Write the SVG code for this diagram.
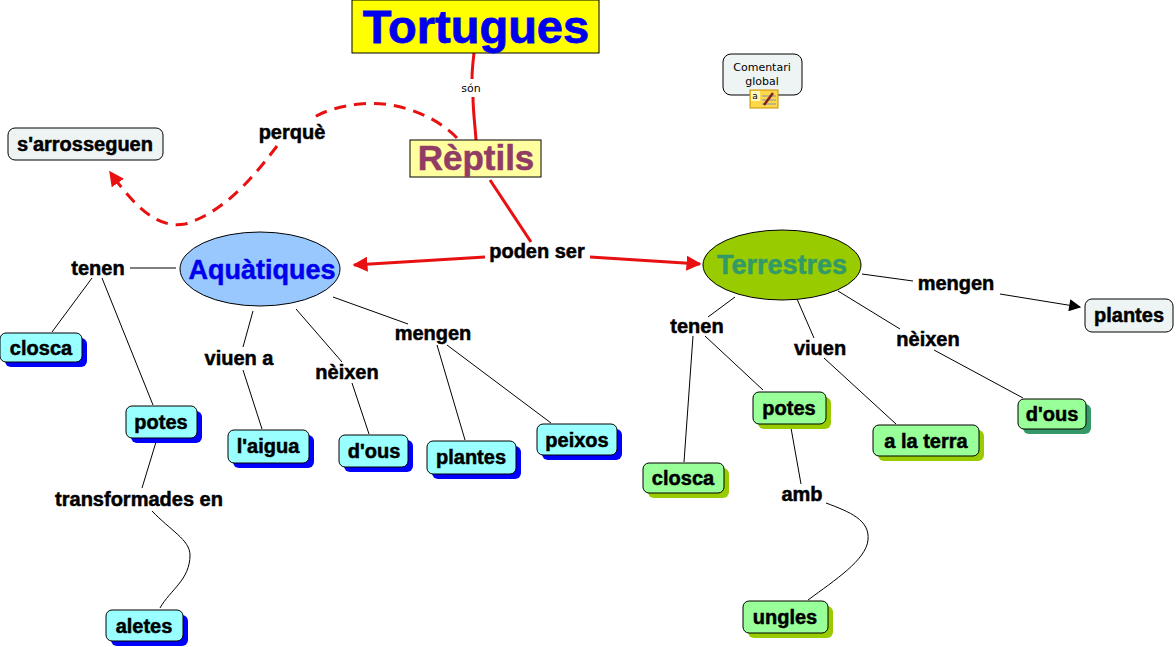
<svg xmlns="http://www.w3.org/2000/svg" width="1176" height="647" viewBox="0 0 1176 647">
<defs>
<style>
.lbl{font-family:"Liberation Sans",Arial,sans-serif;font-weight:bold;font-size:20px;fill:#000;stroke:#000;stroke-width:0.5;text-anchor:middle;dominant-baseline:central}
.box{stroke:#000;stroke-width:1}
.cy{fill:#99ffff}
.gr{fill:#99ff99}
.gy{fill:#eef4f4}
.shb{fill:#0000ff}
.shg{fill:#99cc00}
.sht{fill:#339966}
.thin{fill:none;stroke:#000;stroke-width:1}
.red{fill:none;stroke:#e81010;stroke-width:3}
.dash{fill:none;stroke:#e81010;stroke-width:3;stroke-dasharray:12 8}
</style>
<marker id="ar" viewBox="0 0 10 10" refX="9" refY="5" markerWidth="5" markerHeight="5" orient="auto" markerUnits="strokeWidth">
<path d="M0,0 L10,5 L0,10 z" fill="#e81010"/>
</marker>
<marker id="ab" viewBox="0 0 10 10" refX="9" refY="5" markerWidth="14" markerHeight="12" orient="auto" markerUnits="strokeWidth">
<path d="M0,0 L10,5 L0,10 z" fill="#000"/>
</marker>
</defs>
<rect width="1176" height="647" fill="#fff"/>

<g id="connectors">
<path class="red" d="M474,53 C473,62 472,70 472,79"/>
<path class="red" d="M473,97 C473,110 475,125 476,140"/>
<path class="red" d="M490,180 L531,242"/>
<path class="red" d="M485,257 L354,265" marker-end="url(#ar)"/>
<path class="red" d="M590,257 L700,264" marker-end="url(#ar)"/>
<path class="dash" d="M457,138 C435,115 395,100 360,104 C340,106 324,111 313,118"/>
<path class="dash" d="M277,146 C255,175 225,212 185,224 C155,230 130,200 110,172" marker-end="url(#ar)"/>
<path class="thin" d="M130,268 L176,268"/>
<path class="thin" d="M92,278 L52,332"/>
<path class="thin" d="M102,278 L153,405"/>
<path class="thin" d="M253,311 L243,347"/>
<path class="thin" d="M243,370 L262,429"/>
<path class="thin" d="M296,309 L342,362"/>
<path class="thin" d="M352,383 L369,434"/>
<path class="thin" d="M333,297 L408,324"/>
<path class="thin" d="M437,345 L465,440"/>
<path class="thin" d="M447,345 L551,423"/>
<path class="thin" d="M156,442 L142,488"/>
<path class="thin" d="M152,511 C170,530 190,540 190,555 C190,580 170,590 160,608"/>
<path class="thin" d="M735,297 L708,317"/>
<path class="thin" d="M693,336 L684,462"/>
<path class="thin" d="M705,336 L763,390"/>
<path class="thin" d="M797,299 L814,338"/>
<path class="thin" d="M824,358 L896,424"/>
<path class="thin" d="M838,291 L900,329"/>
<path class="thin" d="M934,350 L1023,398"/>
<path class="thin" d="M862,274 L913,281"/>
<path class="thin" d="M1000,294 L1080,307" marker-end="url(#ab)"/>
<path class="thin" d="M791,428 L801,484"/>
<path class="thin" d="M826,503 C850,512 870,520 868,540 C866,560 835,580 808,600"/>
</g>

<g id="n-tortugues">
<rect x="352" y="0" width="247" height="53" fill="#ffff00" class="box"/>
<text x="476" y="43" font-family="Liberation Sans,Arial,sans-serif" font-weight="bold" font-size="47" fill="#0000ee" stroke="#0000ee" stroke-width="0.8" text-anchor="middle">Tortugues</text>
</g>
<g id="n-reptils">
<rect x="410" y="140" width="131" height="37" fill="#ffffa0" class="box"/>
<text x="476" y="157" font-family="Liberation Sans,Arial,sans-serif" font-weight="bold" font-size="35" fill="#913c64" stroke="#913c64" stroke-width="0.5" text-anchor="middle" dominant-baseline="central">Rèptils</text>
</g>
<g id="n-aquatiques">
<ellipse cx="260" cy="269" rx="80" ry="37" fill="#99c8ff" class="box"/>
<text x="262" y="270" font-family="Liberation Sans,Arial,sans-serif" font-weight="bold" font-size="27" fill="#0000ee" stroke="#0000ee" stroke-width="0.5" text-anchor="middle" dominant-baseline="central">Aquàtiques</text>
</g>
<g id="n-terrestres">
<ellipse cx="782" cy="265" rx="79" ry="35" fill="#99cc00" class="box"/>
<text x="782" y="265" font-family="Liberation Sans,Arial,sans-serif" font-weight="bold" font-size="27" fill="#339966" stroke="#339966" stroke-width="0.5" text-anchor="middle" dominant-baseline="central">Terrestres</text>
</g>

<g id="n-comentari">
<rect x="723" y="54" width="79" height="41" rx="8" class="box gy"/>
<text x="762" y="67" font-family="DejaVu Sans,Verdana,sans-serif" font-size="11" fill="#000" text-anchor="middle" dominant-baseline="central">Comentari</text>
<text x="762" y="81" font-family="DejaVu Sans,Verdana,sans-serif" font-size="11" fill="#000" text-anchor="middle" dominant-baseline="central">global</text>
<rect x="750" y="90" width="28" height="18" fill="#ffd84a" stroke="#c89000" stroke-width="1"/>
<rect x="751" y="91" width="9" height="10" fill="#fff8c0"/>
<text x="755" y="96" font-family="DejaVu Sans,sans-serif" font-size="9" fill="#000" text-anchor="middle" dominant-baseline="central">a</text>
<path d="M762,96 H776 M762,100 H776 M762,104 H776" stroke="#6080d0" stroke-width="0.8"/>
<path d="M764,105 L773,93" stroke="#802020" stroke-width="2.5"/>
</g>

<g id="n-sarrosseguen"><rect x="8" y="128" width="155" height="32" rx="7" class="box gy"/><text class="lbl" x="85" y="144">s'arrosseguen</text></g>
<g id="n-closca-a"><rect x="5" y="338" width="82" height="29" rx="6" class="shb"/><rect x="0" y="333" width="82" height="29" rx="6" class="box cy"/><text class="lbl" x="41" y="348">closca</text></g>
<g id="n-potes-a"><rect x="131" y="411" width="71" height="32" rx="6" class="shb"/><rect x="126" y="406" width="71" height="32" rx="6" class="box cy"/><text class="lbl" x="161" y="422">potes</text></g>
<g id="n-laigua"><rect x="233" y="435" width="81" height="33" rx="6" class="shb"/><rect x="228" y="430" width="81" height="33" rx="6" class="box cy"/><text class="lbl" x="268" y="446">l'aigua</text></g>
<g id="n-dous-a"><rect x="344" y="440" width="69" height="32" rx="6" class="shb"/><rect x="339" y="435" width="69" height="32" rx="6" class="box cy"/><text class="lbl" x="374" y="451">d'ous</text></g>
<g id="n-plantes-a"><rect x="432" y="446" width="89" height="33" rx="6" class="shb"/><rect x="427" y="441" width="89" height="33" rx="6" class="box cy"/><text class="lbl" x="471" y="457">plantes</text></g>
<g id="n-peixos"><rect x="542" y="429" width="80" height="31" rx="6" class="shb"/><rect x="537" y="424" width="80" height="31" rx="6" class="box cy"/><text class="lbl" x="577" y="440">peixos</text></g>
<g id="n-aletes"><rect x="111" y="615" width="77" height="31" rx="6" class="shb"/><rect x="106" y="610" width="77" height="31" rx="6" class="box cy"/><text class="lbl" x="144" y="626">aletes</text></g>

<g id="n-plantes-t"><rect x="1085" y="299" width="88" height="33" rx="7" class="box gy"/><text class="lbl" x="1129" y="315">plantes</text></g>
<g id="n-potes-t"><rect x="758" y="397" width="73" height="32" rx="6" class="shg"/><rect x="753" y="392" width="73" height="32" rx="6" class="box gr"/><text class="lbl" x="789" y="408">potes</text></g>
<g id="n-alaterra"><rect x="878" y="430" width="106" height="31" rx="6" class="shg"/><rect x="873" y="425" width="106" height="31" rx="6" class="box gr"/><text class="lbl" x="926" y="441">a la terra</text></g>
<g id="n-dous-t"><rect x="1023" y="404" width="68" height="30" rx="6" class="sht"/><rect x="1018" y="399" width="68" height="30" rx="6" class="box gr"/><text class="lbl" x="1052" y="414">d'ous</text></g>
<g id="n-closca-t"><rect x="648" y="468" width="81" height="30" rx="6" class="shg"/><rect x="643" y="463" width="81" height="30" rx="6" class="box gr"/><text class="lbl" x="683" y="478">closca</text></g>
<g id="n-ungles"><rect x="748" y="606" width="85" height="32" rx="6" class="shg"/><rect x="743" y="601" width="85" height="32" rx="6" class="box gr"/><text class="lbl" x="785" y="617">ungles</text></g>

<g id="linking-phrases">
<text x="471" y="88" font-family="DejaVu Sans,Verdana,sans-serif" font-size="11" fill="#000" text-anchor="middle" dominant-baseline="central">són</text>
<text class="lbl" x="292" y="132">perquè</text>
<text class="lbl" x="537" y="251">poden ser</text>
<text class="lbl" x="98" y="268">tenen</text>
<text class="lbl" x="239" y="358">viuen a</text>
<text class="lbl" x="347" y="372">nèixen</text>
<text class="lbl" x="433" y="333">mengen</text>
<text class="lbl" x="139" y="499">transformades en</text>
<text class="lbl" x="697" y="326">tenen</text>
<text class="lbl" x="820" y="348">viuen</text>
<text class="lbl" x="928" y="339">nèixen</text>
<text class="lbl" x="956" y="283">mengen</text>
<text class="lbl" x="802" y="494">amb</text>
</g>
</svg>
